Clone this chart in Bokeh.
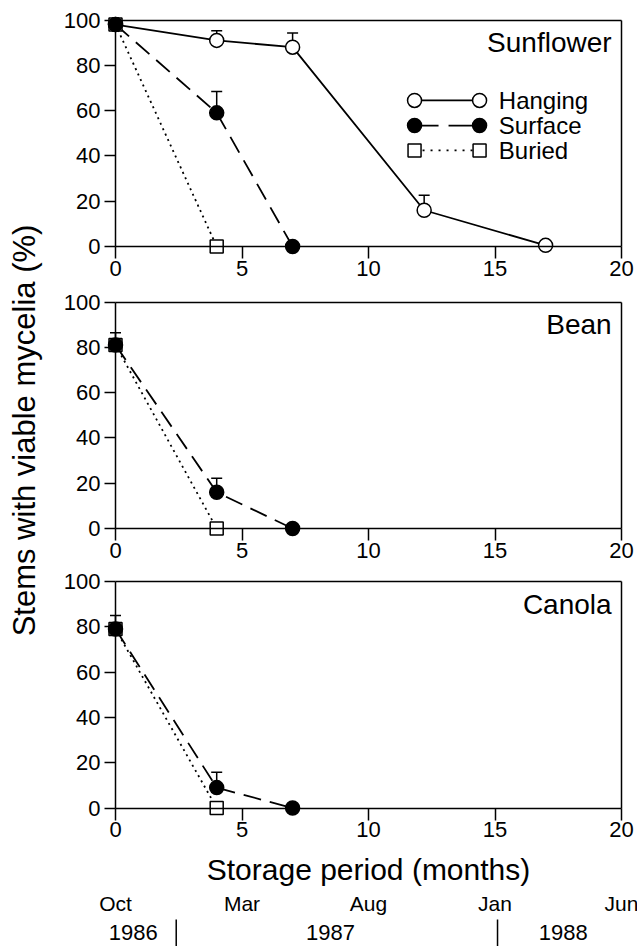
import math
from bokeh.plotting import figure
from bokeh.models import (Range1d, LinearAxis, FixedTicker, Whisker, TeeHead,
                          ColumnDataSource, Label)
from bokeh.layouts import row, column
from bokeh.embed import file_html
from bokeh.resources import INLINE
from bokeh.core.properties import value

# ---------------- data ----------------
X_TICKS = [0, 5, 10, 15, 20]
Y_TICKS = [0, 20, 40, 60, 80, 100]

sun_hanging_x = [0, 4, 7, 12.2, 17]
sun_hanging_y = [98, 91, 88, 16, 0.5]
sun_hanging_up = [None, 95.3, 94.3, 22.6, None]
sun_surface_x = [0, 4, 7]
sun_surface_y = [98, 59, 0]
sun_surface_up = [None, 68.4, None]
sun_buried_x = [0, 4]
sun_buried_y = [98, 0]

bean_surface_x = [0, 4, 7]
bean_surface_y = [81, 16, 0]
bean_surface_up = [86.4, 22.2, None]
bean_buried_x = [0, 4]
bean_buried_y = [81, 0]

canola_surface_x = [0, 4, 7]
canola_surface_y = [79, 9, 0]
canola_surface_up = [85, 15.8, None]
canola_buried_x = [0, 4]
canola_buried_y = [79, 0]

SERIES_NAMES = ["Hanging", "Surface", "Buried"]
PANEL_NAMES = ["Sunflower", "Bean", "Canola"]
X_TITLE = "Storage period (months)"
Y_TITLE = "Stems with viable mycelia (%)"
MONTH_TICKS = [0, 5, 10, 15, 20]
MONTH_NAMES = ["Oct", "Mar", "Aug", "Jan", "Jun"]
YEAR_POS = [0.7, 8.5, 17.7]
YEAR_NAMES = ["1986", "1987", "1988"]
YEAR_BREAKS = [2.4, 15.1]

# ---------------- styles / layout ----------------
FONT = "Liberation Sans"
STYLE = {
    "Hanging": dict(marker="circle", fill="white", dash="solid", leg_dash="solid", size=14),
    "Surface": dict(marker="circle", fill="black", dash="18 9", leg_dash="24 10", size=14),
    "Buried": dict(marker="square", fill="white", dash="2 4", leg_dash="2 6", size=13),
}
DRAW_ORDER = ["Hanging", "Buried", "Surface"]
LEG_X = (11.82, 14.39)
LEG_TX = 15.15
LEG_Y = (64.5, 53.4, 42.4)
TITLE_X, TITLE_Y = 19.61, 90

LABEL_W = 45          # width of the strip holding the shared y title
PANEL_W = 637 - LABEL_W
PX = 25.3             # px per month
PY = 2.265            # px per percent
X0_PX = 70            # px from panel left edge to month 0
X_START = -X0_PX / PX
X_END = (PANEL_W - X0_PX) / PX
x_range = Range1d(X_START, X_END)

# (canvas height, px from canvas top to the 0 % line)
PANEL_GEOM = [(287, 246.0), (281, 241.0), (280, 239.5)]
PM_H = 946 - sum(g[0] for g in PANEL_GEOM)
# rows inside the bottom strip, px from its top
ROW_XTITLE, ROW_MONTH, ROW_YEAR, ROW_BREAK_TOP = 21, 55, 84, 71


def style_axes(p):
    p.grid.visible = False
    xa = p.xaxis[0]
    ya = p.yaxis[0]
    xa.fixed_location = 0
    xa.bounds = (0, 20)
    xa.ticker = FixedTicker(ticks=X_TICKS)
    ya.fixed_location = 0
    ya.bounds = (0, 100)
    ya.ticker = FixedTicker(ticks=Y_TICKS)
    for ax, out in ((xa, 12), (ya, 11)):
        ax.major_tick_out = out
        ax.major_tick_in = 0
        ax.minor_tick_out = 0
        ax.minor_tick_in = 0
        ax.axis_line_width = 1.5
        ax.axis_line_color = "black"
        ax.major_tick_line_width = 1.5
        ax.major_tick_line_color = "black"
        ax.major_label_text_font = FONT
        ax.major_label_text_font_size = "22px"
        ax.major_label_text_color = "black"
    xa.major_label_standoff = 2
    ya.major_label_standoff = 4
    top = LinearAxis(fixed_location=100, bounds=(0, 20), ticker=FixedTicker(ticks=[]),
                     axis_line_width=1.5, axis_line_color="black",
                     major_tick_out=0, minor_tick_out=0)
    right = LinearAxis(fixed_location=20, bounds=(0, 100), ticker=FixedTicker(ticks=[]),
                       axis_line_width=1.5, axis_line_color="black",
                       major_tick_out=0, minor_tick_out=0)
    p.add_layout(top, "above")
    p.add_layout(right, "right")


def make_panel(name, series, geom, legend=False):
    h, zero_px = geom
    y_range = Range1d(-(h - zero_px) / PY, zero_px / PY)
    p = figure(width=PANEL_W, height=h, x_range=x_range, y_range=y_range,
               min_border=0, min_border_left=0, min_border_right=0,
               min_border_top=0, min_border_bottom=0,
               toolbar_location=None, output_backend="svg",
               background_fill_color="white", border_fill_color="white",
               outline_line_color=None)
    style_axes(p)

    for sname, xs, ys, ups in series:
        st = STYLE[sname]
        p.line(xs, ys, line_color="black", line_width=1.8, line_dash=st["dash"])
    for sname, xs, ys, ups in series:
        if ups is None:
            continue
        bx = [x for x, u in zip(xs, ups) if u is not None]
        by = [y for y, u in zip(ys, ups) if u is not None]
        bu = [u for u in ups if u is not None]
        src = ColumnDataSource(dict(x=bx, lower=by, upper=bu))
        w = Whisker(source=src, base="x", lower="lower", upper="upper", dimension="height",
                    line_color="black", line_width=1.5,
                    upper_head=TeeHead(size=11, line_width=1.5, line_color="black"),
                    lower_head=None)
        p.add_layout(w)
    for oname in DRAW_ORDER:
        for sname, xs, ys, ups in series:
            if sname != oname:
                continue
            st = STYLE[sname]
            p.scatter(xs, ys, marker=st["marker"], size=st["size"], fill_color=st["fill"],
                      line_color="black", line_width=1.5)

    p.add_layout(Label(x=TITLE_X, y=TITLE_Y, text=name, text_align="right",
                       text_baseline="middle", text_font=FONT, text_font_size="28px",
                       text_color="black"))

    if legend:
        for i, sname in enumerate(SERIES_NAMES):
            st = STYLE[sname]
            ly = LEG_Y[i]
            p.line(list(LEG_X), [ly, ly], line_color="black", line_width=1.8,
                   line_dash=st["leg_dash"])
            p.scatter(list(LEG_X), [ly, ly], marker=st["marker"], size=st["size"],
                      fill_color=st["fill"], line_color="black", line_width=1.5)
            p.add_layout(Label(x=LEG_TX, y=ly, text=sname, text_align="left",
                               text_baseline="middle", text_font=FONT,
                               text_font_size="24px", text_color="black"))
    return p


p1 = make_panel(PANEL_NAMES[0], [
    ("Hanging", sun_hanging_x, sun_hanging_y, sun_hanging_up),
    ("Surface", sun_surface_x, sun_surface_y, sun_surface_up),
    ("Buried", sun_buried_x, sun_buried_y, None),
], PANEL_GEOM[0], legend=True)

p2 = make_panel(PANEL_NAMES[1], [
    ("Surface", bean_surface_x, bean_surface_y, bean_surface_up),
    ("Buried", bean_buried_x, bean_buried_y, None),
], PANEL_GEOM[1])

p3 = make_panel(PANEL_NAMES[2], [
    ("Surface", canola_surface_x, canola_surface_y, canola_surface_up),
    ("Buried", canola_buried_x, canola_buried_y, None),
], PANEL_GEOM[2])

# x title and calendar rows under the bottom panel (shares the month scale)
pm = figure(width=PANEL_W, height=PM_H, x_range=x_range, y_range=Range1d(PM_H, 0),
            min_border=0, min_border_left=0, min_border_right=0,
            min_border_top=0, min_border_bottom=0,
            x_axis_type=None, y_axis_type=None,
            toolbar_location=None, output_backend="svg",
            background_fill_color="white", border_fill_color="white",
            outline_line_color=None)
pm.grid.visible = False
pm.text(x=[10], y=[ROW_XTITLE], text=[X_TITLE],
        text_align="center", text_baseline="middle",
        text_font=value(FONT), text_font_size="30px", text_color="black")
pm.text(x=MONTH_TICKS, y=[ROW_MONTH] * len(MONTH_TICKS), text=MONTH_NAMES,
        text_align="center", text_baseline="middle",
        text_font=value(FONT), text_font_size="21px", text_color="black")
pm.text(x=YEAR_POS, y=[ROW_YEAR] * len(YEAR_POS), text=YEAR_NAMES,
        text_align="center", text_baseline="middle",
        text_font=value(FONT), text_font_size="22px", text_color="black")
pm.segment(x0=YEAR_BREAKS, y0=[ROW_BREAK_TOP] * len(YEAR_BREAKS), x1=YEAR_BREAKS,
           y1=[PM_H] * len(YEAR_BREAKS), line_color="black", line_width=1.5)

# shared y-axis title
pl = figure(width=LABEL_W, height=946, x_range=Range1d(0, LABEL_W), y_range=Range1d(946, 0),
            min_border=0, min_border_left=0, min_border_right=0,
            min_border_top=0, min_border_bottom=0,
            x_axis_type=None, y_axis_type=None,
            toolbar_location=None, output_backend="svg",
            background_fill_color="white", border_fill_color="white",
            outline_line_color=None)
pl.grid.visible = False
pl.text(x=[24], y=[430], text=[Y_TITLE], angle=math.pi / 2,
        text_align="center", text_baseline="middle",
        text_font=value(FONT), text_font_size="31px", text_color="black")

layout = row(pl, column(p1, p2, p3, pm, spacing=0), spacing=0)

open("out.html", "w").write(file_html(layout, INLINE))
